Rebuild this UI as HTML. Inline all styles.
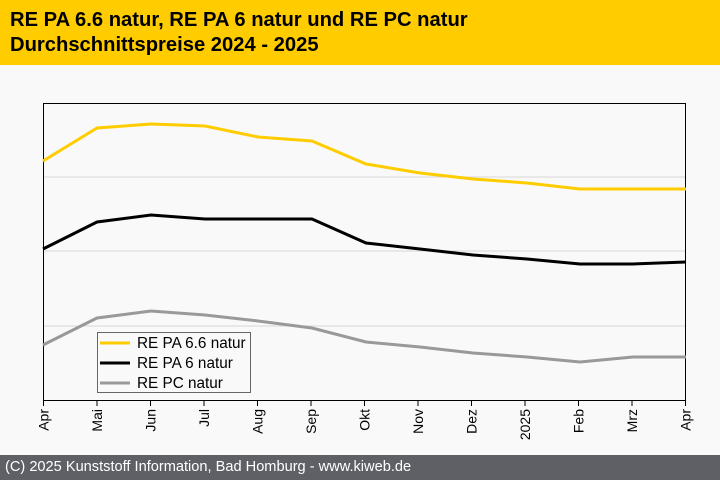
<!DOCTYPE html><html><head><style>
body{margin:0;width:720px;height:480px;background:#f9f9f9;font-family:"Liberation Sans",sans-serif;position:relative;overflow:hidden}
.h{position:absolute;left:0;top:0;width:720px;height:65px;background:#ffcc00}
.t{position:absolute;left:10px;font-weight:bold;font-size:20.2px;color:#000}
.f{position:absolute;left:0;top:455px;width:720px;height:25px;background:#5f6066;color:#fff;font-size:14.6px;line-height:25px;padding-left:5px;box-sizing:border-box}
</style></head><body>
<div class="h"></div>
<div class="t" style="top:9px">RE PA 6.6 natur, RE PA 6 natur und RE PC natur</div>
<div class="t" style="top:34px">Durchschnittspreise 2024 - 2025</div>
<svg width="720" height="480" style="position:absolute;left:0;top:0" font-family="Liberation Sans, sans-serif">
<g stroke="#d8d8d8"><line x1="43" x2="685" y1="177" y2="177"/><line x1="43" x2="685" y1="251" y2="251"/><line x1="43" x2="685" y1="326" y2="326"/></g>
<rect x="43.5" y="103.5" width="642" height="297" fill="none" stroke="#000"/>
<g stroke="#000" id="tk"></g>
<polyline fill="none" stroke="#ffcc00" stroke-width="3" points="43,161 97,128 151,124 205,126 258,137 312,141 366,164 420,173 473,179 527,183 580,189 633,189 686,189"/>
<polyline fill="none" stroke="#000" stroke-width="3" points="43,249 97,222 151,215 205,219 258,219 312,219 366,243 420,249 473,255 527,259 580,264 633,264 686,262"/>
<polyline fill="none" stroke="#999" stroke-width="3" points="43,345 97,318 151,311 205,315 258,321 312,328 366,342 420,347 473,353 527,357 580,362 633,357 686,357"/>
<rect x="97.5" y="332.5" width="153" height="60" fill="#f9f9f9" stroke="#666"/>
<line x1="100" x2="130" y1="343" y2="343" stroke="#ffcc00" stroke-width="3"/>
<line x1="100" x2="130" y1="363" y2="363" stroke="#000" stroke-width="3"/>
<line x1="100" x2="130" y1="383" y2="383" stroke="#999" stroke-width="3"/>
<g font-size="15.3" fill="#000"><text x="137" y="348">RE PA 6.6 natur</text><text x="137" y="368">RE PA 6 natur</text><text x="137" y="388">RE PC natur</text></g>
<g id="lb" font-size="14" fill="#000"></g>
</svg>
<script>
var m=["Apr","Mai","Jun","Jul","Aug","Sep","Okt","Nov","Dez","2025","Feb","Mrz","Apr"],tk=document.getElementById("tk"),lb=document.getElementById("lb"),ns="http://www.w3.org/2000/svg";
m.forEach(function(s,i){var x=43.5+i*53.5;var l=document.createElementNS(ns,"line");l.setAttribute("x1",x);l.setAttribute("x2",x);l.setAttribute("y1",400);l.setAttribute("y2",406);tk.appendChild(l);
var t=document.createElementNS(ns,"text");t.setAttribute("transform","translate("+(x+5)+",409) rotate(-90)");t.setAttribute("text-anchor","end");t.textContent=s;lb.appendChild(t);});
</script>
<div class="f">(C) 2025 Kunststoff Information, Bad Homburg - www.kiweb.de</div>
</body></html>
